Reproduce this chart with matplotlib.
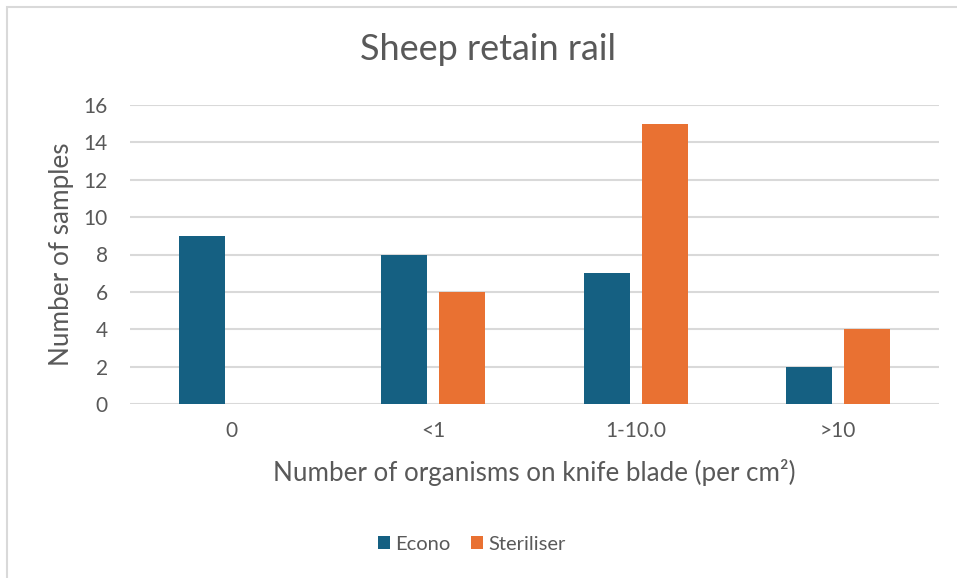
import numpy as np
import matplotlib
matplotlib.use('Agg')
import matplotlib.pyplot as plt
from matplotlib.patches import Rectangle

# Data
categories = ['0', '<1', '1-10.0', '>10']
econo = [9, 8, 7, 2]
steriliser = [0, 6, 15, 4]
y_ticks = [0, 2, 4, 6, 8, 10, 12, 14, 16]

text_col = '#595959'
grid_col = '#d9d9d9'
econo_col = '#156082'
steril_col = '#e97132'

plt.rcParams['font.family'] = ['Lato', 'DejaVu Sans']

W, H = 957, 578
fig = plt.figure(figsize=(W / 100, H / 100), dpi=100)
fig.patch.set_facecolor('white')

# Chart frame
fig.patches.append(Rectangle((7 / W, -0.1), 1.2, 1.1 - 7 / H,
                             transform=fig.transFigure, fill=False,
                             edgecolor='#d9d9d9', linewidth=1.5))

left, right, top, bottom = 130, 939, 105, 404
ax = fig.add_axes([left / W, (H - bottom) / H, (right - left) / W,
                   (bottom - top) / H])

x = np.arange(len(categories))
bw = 0.227
off = 0.143
ax.bar(x - off, econo, bw, color=econo_col, label='Econo', zorder=3)
ax.bar(x + off, steriliser, bw, color=steril_col, label='Steriliser', zorder=3)

ax.set_xlim(-0.5, len(categories) - 0.5)
ax.set_ylim(0, 16)
ax.set_yticks(y_ticks)
ax.set_xticks(x)
ax.set_xticklabels(categories)
ax.tick_params(length=0, labelsize=15, labelcolor=text_col)
ax.tick_params(axis='x', pad=12)
ax.tick_params(axis='y', pad=16)
ax.grid(axis='y', color=grid_col, linewidth=1.5, zorder=0)
for s in ax.spines.values():
    s.set_visible(False)

ax.set_ylabel('Number of samples', fontsize=18.8, color=text_col, labelpad=7)
ax.set_xlabel('Number of organisms on knife blade (per cm²)', fontsize=18.7,
              color=text_col, labelpad=13)
fig.text(488 / W, 1 - 50 / H, 'Sheep retain rail', fontsize=26,
         color=text_col, ha='center', va='center')

fig.legend(loc='center', bbox_to_anchor=(472 / W, 1 - 544 / H), ncol=2,
           frameon=False, fontsize=14.5, labelcolor=text_col,
           handlelength=0.62, handleheight=0.62, handletextpad=0.26,
           columnspacing=1.0)

fig.savefig('out.png', dpi=100)
